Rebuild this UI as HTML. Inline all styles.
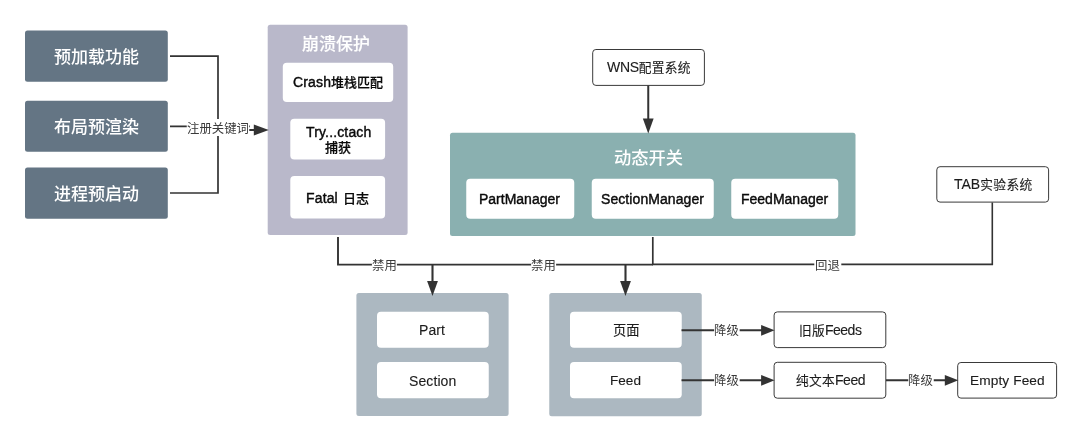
<!DOCTYPE html>
<html lang="zh-CN">
<head>
<meta charset="utf-8">
<title>崩溃保护与动态开关</title>
<style>
html,body{margin:0;padding:0;background:#fff;}
body{width:1080px;height:440px;position:relative;overflow:hidden;
  font-family:"Liberation Sans","Noto Sans CJK SC",sans-serif;color:#111;}
svg{position:absolute;left:0;top:0;}
#wrap{position:absolute;left:0;top:0;width:1080px;height:440px;filter:blur(0.45px);}
.tx{position:absolute;white-space:nowrap;line-height:1;}
.d{color:#fff;font-size:17px;font-weight:500;}
.t{color:#fff;font-size:17px;font-weight:500;-webkit-text-stroke:0.15px #fff;}
#t10{font-size:17.3px;-webkit-text-stroke:0;}
#t27 .m{font-size:13.7px;letter-spacing:.1px;}
#t21 .m{font-size:13.6px;letter-spacing:0;}
#t8{word-spacing:1.5px;}
#t14{letter-spacing:.45px;}
.wb{color:#0a0a0a;font-size:13px;font-weight:500;-webkit-text-stroke:0.2px #0a0a0a;}
.wb .l{font-size:14px;letter-spacing:0;-webkit-text-stroke:0.4px #0a0a0a;}
#t5 .l,#t6 .l,#t8 .l{letter-spacing:.15px;}
#t12 .l{letter-spacing:.08px;}
.w{color:#1c1c1c;font-size:13.3px;-webkit-text-stroke:0.12px #1c1c1c;}
.o{color:#1c1c1c;font-size:12.7px;letter-spacing:.3px;-webkit-text-stroke:0.12px #1c1c1c;}
.o .m{font-size:14px;letter-spacing:0;}
#t9 .m{letter-spacing:-.3px;}
#t25 .m{letter-spacing:-.5px;}
#t26 .m{letter-spacing:-.45px;}
.w .m{font-size:14px;letter-spacing:.1px;}
.lb{color:#3a3a3a;font-size:12.4px;}
</style>
</head>
<body>
<div id="wrap">
<svg width="1080" height="440" viewBox="0 0 1080 440">
<rect x="25" y="30.5" width="142.8" height="51.3" rx="2.5" fill="#647584"/>
<rect x="25" y="100.7" width="142.8" height="51.1" rx="2.5" fill="#647584"/>
<rect x="25" y="167.5" width="142.8" height="51.3" rx="2.5" fill="#647584"/>
<rect x="267.7" y="24.8" width="139.9" height="210.2" rx="2.5" fill="#b9b8ca"/>
<rect x="282.8" y="62.8" width="110.4" height="39.2" rx="4" fill="#fff"/>
<rect x="290.3" y="118.8" width="94.8" height="40.7" rx="4" fill="#fff"/>
<rect x="290.3" y="176.1" width="94.8" height="42.3" rx="4" fill="#fff"/>
<rect x="450" y="132.7" width="405.5" height="103.2" rx="2.5" fill="#8ab0b0"/>
<rect x="466.25" y="178.75" width="108.0" height="40.0" rx="4" fill="#fff"/>
<rect x="591.75" y="178.75" width="122.0" height="40.0" rx="4" fill="#fff"/>
<rect x="731.25" y="178.75" width="107.0" height="40.0" rx="4" fill="#fff"/>
<rect x="356.4" y="293" width="152.2" height="123.1" rx="2.5" fill="#acb8c1"/>
<rect x="377" y="311.8" width="111.75" height="35.9" rx="4" fill="#fff"/>
<rect x="377" y="362.1" width="111.75" height="36.1" rx="4" fill="#fff"/>
<rect x="549.25" y="293" width="152.5" height="123.25" rx="2.5" fill="#acb8c1"/>
<rect x="570" y="311.8" width="111.75" height="35.9" rx="4" fill="#fff"/>
<rect x="570" y="362.1" width="111.75" height="36.1" rx="4" fill="#fff"/>
<g fill="#fff" stroke="#3a3a3a" stroke-width="1">
<rect x="592.7" y="49.5" width="111.7" height="35.9" rx="3.2"/>
<rect x="936.8" y="166.7" width="111.8" height="35.4" rx="3.2"/>
<rect x="774.1" y="311.9" width="111.7" height="35.7" rx="3.2"/>
<rect x="774.1" y="362.3" width="111.7" height="35.9" rx="3.2"/>
<rect x="957.7" y="362.5" width="98.9" height="35.6" rx="3.2"/>
</g>
<g fill="none" stroke="#333">
<path d="M170 56.1 H218 V193 H170" stroke-width="1.7"/>
<path d="M170 126.3 H250" stroke-width="1.7"/>
<path d="M246 130 H256" stroke-width="2"/>
<path d="M648.25 85.5 V120" stroke-width="2"/>
<path d="M338 237 V264.6 H653" stroke-width="1.9"/>
<path d="M652.8 237 V264.5" stroke-width="1.7"/>
<path d="M652 264.4 H992.3 V202.5" stroke-width="1.6"/>
<path d="M432.5 264.5 V283" stroke-width="2.1"/>
<path d="M625.5 264.5 V283" stroke-width="2.1"/>
<path d="M681.5 330.3 H762" stroke-width="1.9"/>
<path d="M681.5 380.3 H762" stroke-width="1.9"/>
<path d="M886 380.3 H946" stroke-width="1.9"/>
</g>
<g fill="#333">
<path d="M253.8 124.6 L268.8 130 L253.8 135.4 Z"/>
<path d="M642.85 118.6 L648.25 133.6 L653.65 118.6 Z"/>
<path d="M427.1 281 L432.5 296 L437.9 281 Z"/>
<path d="M620.1 281 L625.5 296 L630.9 281 Z"/>
<path d="M761.1 324.9 L774.6 330.3 L761.1 335.7 Z"/>
<path d="M761.1 374.9 L774.6 380.3 L761.1 385.7 Z"/>
<path d="M944.8 374.9 L958.3 380.3 L944.8 385.7 Z"/>
</g>
<g fill="#fff">
<rect x="186.75" y="119.0" width="62.5" height="17"/>
<rect x="371.9" y="257.5" width="25" height="15"/>
<rect x="531.1" y="257.5" width="25" height="15"/>
<rect x="814.3" y="257.5" width="27" height="15"/>
<rect x="714.15" y="322.8" width="25.5" height="15"/>
<rect x="714.15" y="372.8" width="25.5" height="15"/>
<rect x="908.25" y="372.8" width="25.5" height="15"/>
</g>
</svg>
<div class="tx d" id="t0" style="left:54px;top:49px">预加载功能</div>
<div class="tx d" id="t1" style="left:54px;top:119px">布局预渲染</div>
<div class="tx d" id="t2" style="left:54px;top:186px">进程预启动</div>
<div class="tx lb" id="t3" style="left:187px;top:123px">注册关键词</div>
<div class="tx t" id="t4" style="left:302px;top:36px">崩溃保护</div>
<div class="tx wb" id="t5" style="left:293px;top:75px"><span class="l">Crash</span>堆栈匹配</div>
<div class="tx wb" id="t6" style="left:306px;top:125px"><span class="l">Try...ctach</span></div>
<div class="tx wb" id="t7" style="left:325px;top:141px">捕获</div>
<div class="tx wb" id="t8" style="left:306px;top:191px"><span class="l">Fatal</span> 日志</div>
<div class="tx o" id="t9" style="left:607px;top:60px"><span class="m">WNS</span>配置系统</div>
<div class="tx t" id="t10" style="left:614px;top:150px">动态开关</div>
<div class="tx wb" id="t11" style="left:479px;top:192px"><span class="l">PartManager</span></div>
<div class="tx wb" id="t12" style="left:601px;top:192px"><span class="l">SectionManager</span></div>
<div class="tx wb" id="t13" style="left:741px;top:192px"><span class="l">FeedManager</span></div>
<div class="tx o" id="t14" style="left:954px;top:177px"><span class="m">TAB</span>实验系统</div>
<div class="tx lb" id="t15" style="left:372px;top:260px">禁用</div>
<div class="tx lb" id="t16" style="left:531px;top:260px">禁用</div>
<div class="tx lb" id="t17" style="left:815px;top:260px">回退</div>
<div class="tx w" id="t18" style="left:419px;top:323px"><span class="m">Part</span></div>
<div class="tx w" id="t19" style="left:409px;top:374px"><span class="m">Section</span></div>
<div class="tx w" id="t20" style="left:613px;top:324px">页面</div>
<div class="tx w" id="t21" style="left:610px;top:374px"><span class="m">Feed</span></div>
<div class="tx lb" id="t22" style="left:714px;top:325px">降级</div>
<div class="tx lb" id="t23" style="left:714px;top:375px">降级</div>
<div class="tx lb" id="t24" style="left:908px;top:375px">降级</div>
<div class="tx o" id="t25" style="left:799px;top:323px">旧版<span class="m">Feeds</span></div>
<div class="tx o" id="t26" style="left:796px;top:373px">纯文本<span class="m">Feed</span></div>
<div class="tx o" id="t27" style="left:970px;top:374px"><span class="m">Empty Feed</span></div>
</div>
</body>
</html>
